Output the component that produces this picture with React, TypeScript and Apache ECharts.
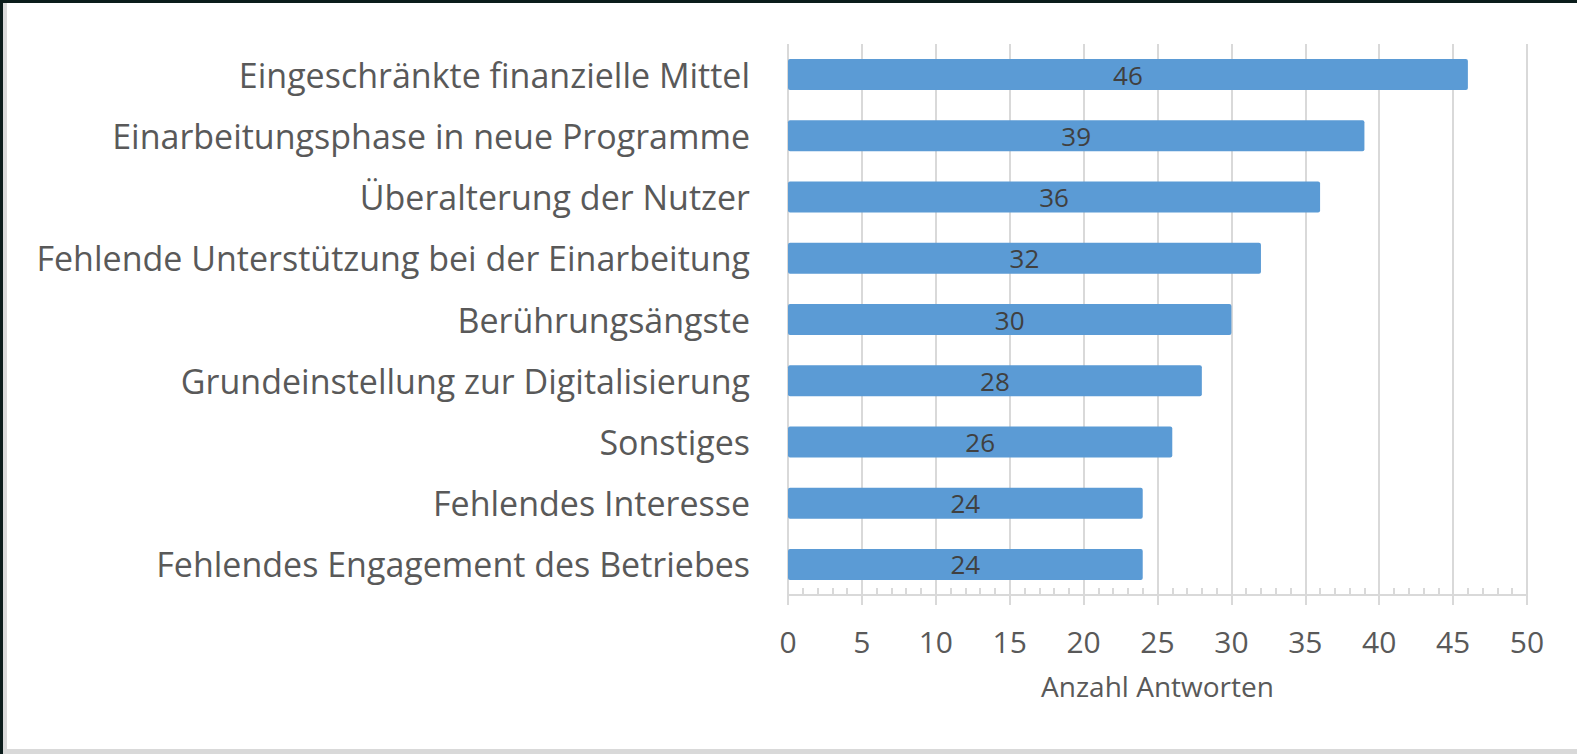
import React, { useEffect, useRef } from "react";
import * as echarts from "echarts";

const categories = [
  "Eingeschränkte finanzielle Mittel",
  "Einarbeitungsphase in neue Programme",
  "Überalterung der Nutzer",
  "Fehlende Unterstützung bei der Einarbeitung",
  "Berührungsängste",
  "Grundeinstellung zur Digitalisierung",
  "Sonstiges",
  "Fehlendes Interesse",
  "Fehlendes Engagement des Betriebes",
];
const answerCounts = [46, 39, 36, 32, 30, 28, 26, 24, 24];
const axisTitle = "Anzahl Antworten";
const axisMin = 0;
const axisMax = 50;
const axisStep = 5;

const FONT = "'Open Sans', 'Noto Sans', sans-serif";
const GRID_COLOR = "#d9d9d9";

export default function App() {
  const ref = useRef<HTMLDivElement>(null);

  useEffect(() => {
    if (!ref.current) return;
    const chart = echarts.init(ref.current, undefined, { renderer: "svg" });
    chart.setOption({
      animation: false,
      backgroundColor: "transparent",
      textStyle: { fontFamily: FONT },
      grid: { left: 788, right: 50, top: 44, bottom: 159, containLabel: false },
      xAxis: [
        {
          type: "value",
          min: axisMin,
          max: axisMax,
          interval: axisStep,
          position: "bottom",
          axisLine: { show: true, lineStyle: { color: GRID_COLOR, width: 2 } },
          axisTick: { show: true, length: 10, lineStyle: { color: GRID_COLOR, width: 2 } },
          axisLabel: { fontSize: 30, color: "#595959", margin: 31, fontFamily: FONT },
          splitLine: { show: true, lineStyle: { color: GRID_COLOR, width: 2 } },
          name: axisTitle,
          nameLocation: "middle",
          nameGap: 77,
          nameTextStyle: { fontSize: 28, color: "#595959", fontFamily: FONT },
        },
        {
          type: "value",
          min: axisMin,
          max: axisMax,
          interval: axisStep,
          position: "bottom",
          axisLine: { show: false },
          axisTick: { show: false, inside: true },
          minorTick: { show: true, splitNumber: 5, length: 7, lineStyle: { color: GRID_COLOR, width: 2 } },
          axisLabel: { show: false },
          splitLine: { show: false },
        },
      ],
      yAxis: {
        type: "category",
        inverse: true,
        data: categories,
        axisLine: { show: false },
        axisTick: { show: false },
        splitLine: { show: false },
        axisLabel: { fontSize: 34, color: "#595959", margin: 38, fontFamily: FONT },
      },
      series: [
        {
          type: "bar",
          xAxisIndex: 0,
          data: answerCounts,
          barWidth: 31,
          itemStyle: { color: "#5b9bd5", borderRadius: 2 },
          label: {
            show: true,
            position: "inside",
            color: "#404040",
            fontSize: 26,
            fontFamily: FONT,
          },
        },
      ],
    });
    return () => chart.dispose();
  }, []);

  return (
    <div
      style={{
        position: "fixed",
        left: 0,
        top: 0,
        width: 1577,
        height: 754,
        background: "#ffffff",
        overflow: "hidden",
      }}
    >
      <div style={{ position: "absolute", left: 0, top: 0, width: 1577, height: 3, background: "#0b1c1b" }} />
      <div style={{ position: "absolute", left: 0, top: 0, width: 3, height: 754, background: "#0b1c1b" }} />
      <div style={{ position: "absolute", left: 3, top: 3, width: 4, height: 751, background: "#d9d9d9" }} />
      <div style={{ position: "absolute", left: 3, top: 749, width: 1574, height: 5, background: "#d9d9d9" }} />
      <div ref={ref} style={{ position: "absolute", left: 0, top: 0, width: 1577, height: 754 }} />
    </div>
  );
}
